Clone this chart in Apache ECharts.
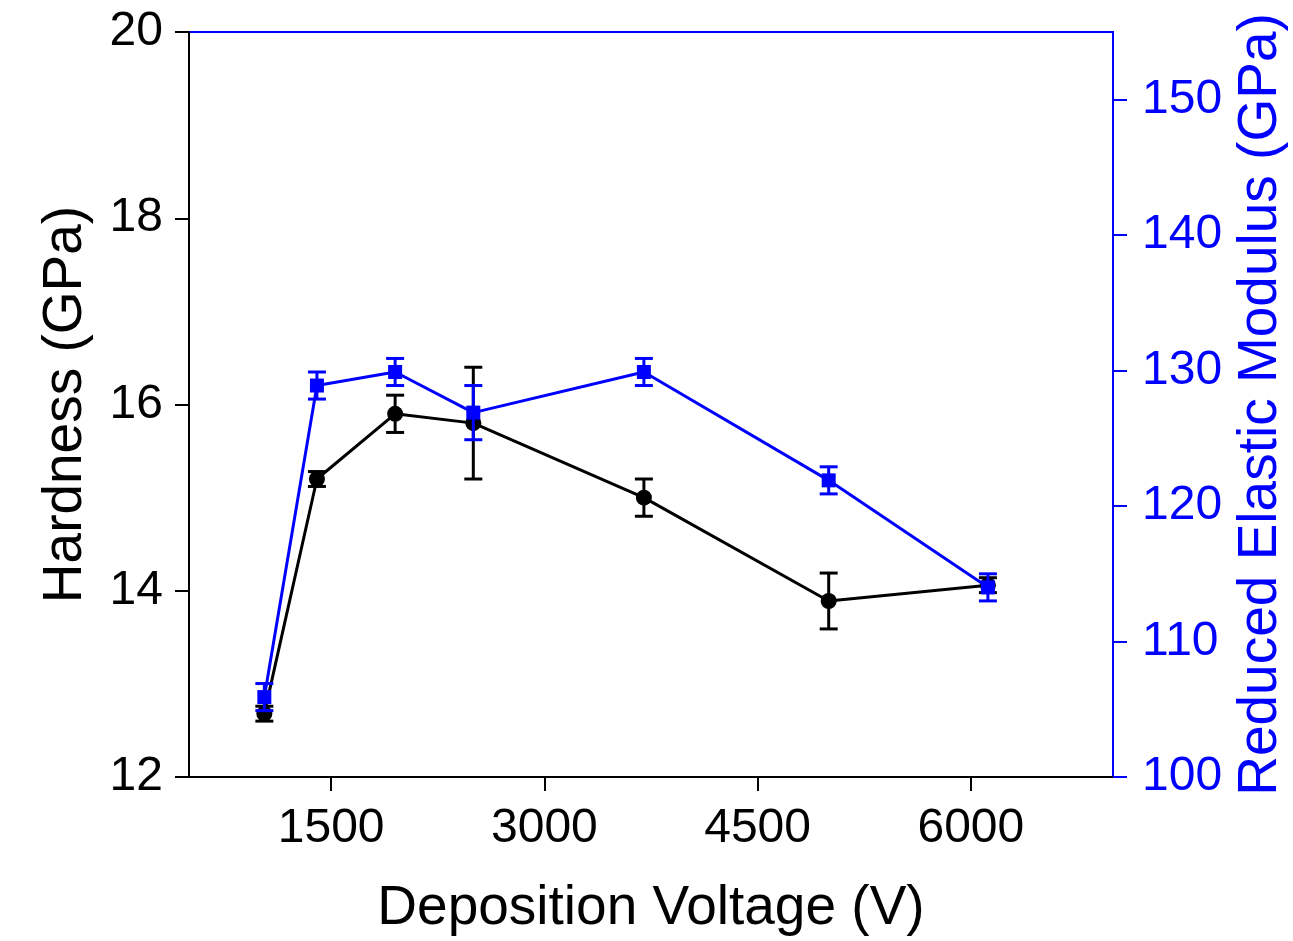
<!DOCTYPE html>
<html>
<head>
<meta charset="utf-8">
<script src="https://cdn.jsdelivr.net/npm/echarts@6/dist/echarts.min.js"></script>
<style>
html,body{margin:0;padding:0;background:#fff;}
#chart{width:1293px;height:941px;}
</style>
</head>
<body>
<div id="chart"></div>
<script>
// Deposition voltage (V)
const voltage = [1030, 1400, 1950, 2500, 3700, 5000, 6120];
// Hardness (GPa) and its error
const hardness = [12.68, 15.2, 15.9, 15.8, 15.0, 13.89, 14.06];
const hardnessErr = [0.08, 0.08, 0.2, 0.6, 0.2, 0.3, 0.08];
// Reduced elastic modulus (GPa) and its error
const modulus = [105.9, 128.9, 129.9, 126.9, 129.9, 121.9, 114.0];
const modulusErr = [1.0, 1.0, 1.0, 2.0, 1.0, 1.0, 1.0];
// Tick labels
const xTicks = [1500, 3000, 4500, 6000];
const hardTicks = [12, 14, 16, 18, 20];
const modTicks = [100, 110, 120, 130, 140, 150];

const FONT = '"Liberation Sans", Arial, sans-serif';
const BLUE = '#0000ff';
const BLACK = '#000000';

function pts(xs, ys) { return xs.map((x, i) => [x, ys[i]]); }
function errData(xs, ys, es) { return xs.map((x, i) => [x, ys[i] - es[i], ys[i] + es[i]]); }
const plain = v => String(v);

function errRender(color) {
  return function (params, api) {
    const x = api.value(0);
    const lo = api.coord([x, api.value(1)]);
    const hi = api.coord([x, api.value(2)]);
    const hw = 9;
    const style = { stroke: color, lineWidth: 3 };
    return {
      type: 'group',
      children: [
        { type: 'line', shape: { x1: lo[0], y1: lo[1], x2: hi[0], y2: hi[1] }, style: style },
        { type: 'line', shape: { x1: lo[0] - hw, y1: lo[1], x2: lo[0] + hw, y2: lo[1] }, style: style },
        { type: 'line', shape: { x1: hi[0] - hw, y1: hi[1], x2: hi[0] + hw, y2: hi[1] }, style: style }
      ]
    };
  };
}

const chart = echarts.init(document.getElementById('chart'), null, { renderer: 'canvas' });
chart.setOption({
  animation: false,
  backgroundColor: '#ffffff',
  grid: {
    left: 189, right: 180, top: 32, bottom: 164,
    outerBoundsMode: 'none', containLabel: false,
    show: true, borderColor: BLUE, borderWidth: 2, backgroundColor: 'transparent'
  },
  xAxis: {
    type: 'value', min: 500, max: 7000,
    name: 'Deposition Voltage (V)', nameLocation: 'middle', nameGap: 104,
    nameTextStyle: { fontFamily: FONT, fontSize: 55, color: BLACK },
    axisLine: { show: true, onZero: false, lineStyle: { color: BLACK, width: 2 } },
    axisTick: { show: true, length: 14, lineStyle: { color: BLACK, width: 2 }, customValues: xTicks },
    axisLabel: { fontFamily: FONT, fontSize: 48, color: BLACK, margin: 28, customValues: xTicks, formatter: plain },
    splitLine: { show: false }
  },
  yAxis: [
    {
      type: 'value', min: 12, max: 20, position: 'left',
      name: 'Hardness (GPa)', nameLocation: 'middle', nameGap: 96, nameRotate: 90,
      nameTextStyle: { fontFamily: FONT, fontSize: 55, color: BLACK },
      axisLine: { show: true, onZero: false, lineStyle: { color: BLACK, width: 2 } },
      axisTick: { show: true, length: 14, lineStyle: { color: BLACK, width: 2 }, customValues: hardTicks },
      axisLabel: { fontFamily: FONT, fontSize: 48, color: BLACK, margin: 26, customValues: hardTicks, formatter: plain },
      splitLine: { show: false }
    },
    {
      type: 'value', min: 100, max: 155, position: 'right',
      name: 'Reduced Elastic Modulus (GPa)', nameLocation: 'middle', nameGap: 120, nameRotate: 90,
      nameTextStyle: { fontFamily: FONT, fontSize: 55, color: BLUE },
      axisLine: { show: true, onZero: false, lineStyle: { color: BLUE, width: 2 } },
      axisTick: { show: true, length: 14, lineStyle: { color: BLUE, width: 2 }, customValues: modTicks },
      axisLabel: { fontFamily: FONT, fontSize: 48, color: BLUE, margin: 29, customValues: modTicks, formatter: plain },
      splitLine: { show: false }
    }
  ],
  series: [
    {
      type: 'custom', name: 'hardErr', yAxisIndex: 0, z: 2,
      renderItem: errRender(BLACK), data: errData(voltage, hardness, hardnessErr),
      encode: { x: 0, y: [1, 2] }
    },
    {
      type: 'line', name: 'Hardness', yAxisIndex: 0, z: 3,
      data: pts(voltage, hardness),
      symbol: 'circle', symbolSize: 16,
      lineStyle: { color: BLACK, width: 3 },
      itemStyle: { color: BLACK }
    },
    {
      type: 'custom', name: 'modErr', yAxisIndex: 1, z: 4,
      renderItem: errRender(BLUE), data: errData(voltage, modulus, modulusErr),
      encode: { x: 0, y: [1, 2] }
    },
    {
      type: 'line', name: 'Modulus', yAxisIndex: 1, z: 5,
      data: pts(voltage, modulus),
      symbol: 'rect', symbolSize: 14,
      lineStyle: { color: BLUE, width: 3 },
      itemStyle: { color: BLUE }
    }
  ]
});
</script>
</body>
</html>
